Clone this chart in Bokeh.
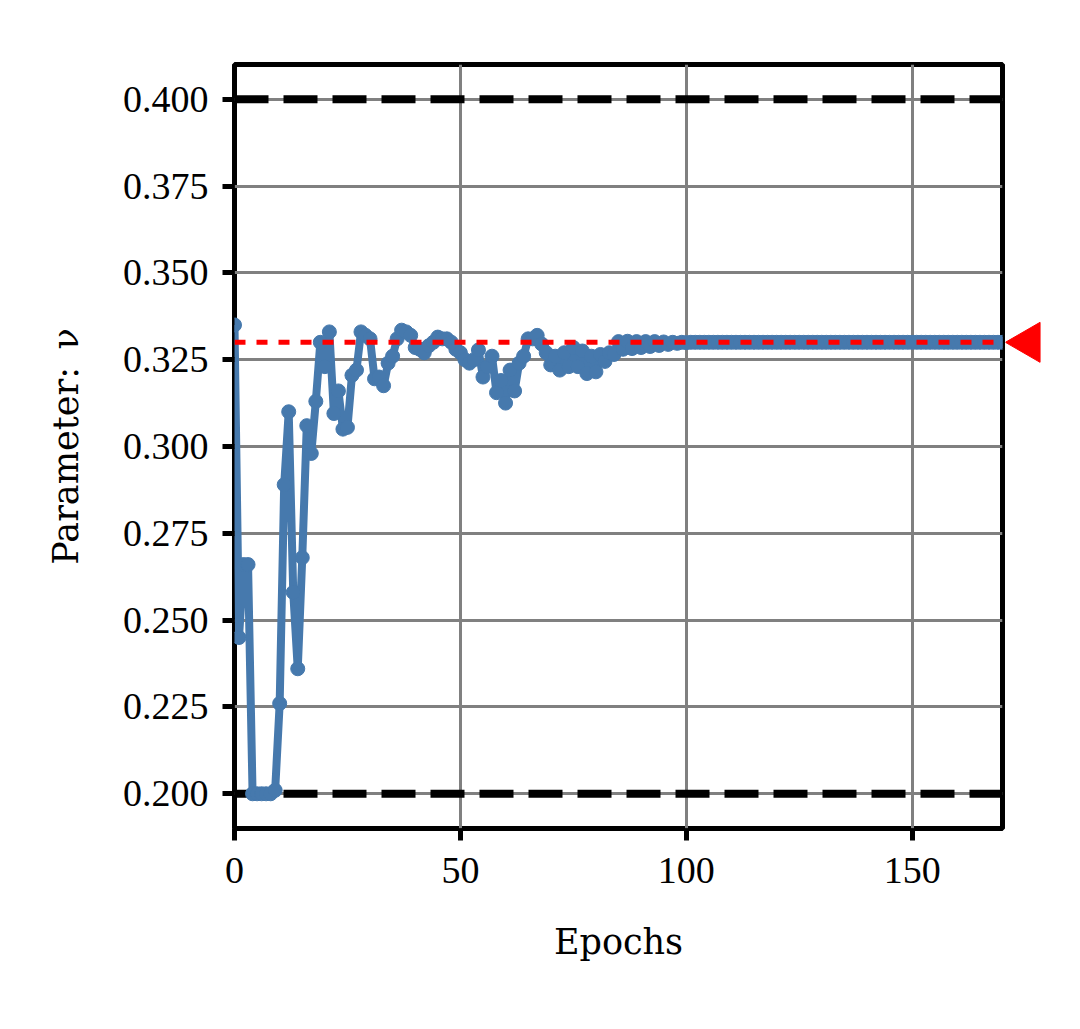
import math
from bokeh.plotting import figure
from bokeh.layouts import row
from bokeh.models import Range1d, FixedTicker, Span, PrintfTickFormatter
from bokeh.embed import file_html
from bokeh.resources import INLINE

# ---------------- data ----------------
epochs = list(range(171))
nu_early = [
    0.335, 0.245, 0.266, 0.266, 0.200, 0.200, 0.200, 0.200, 0.200, 0.201,   # 0-9
    0.226, 0.289, 0.310, 0.258, 0.236, 0.268, 0.306, 0.298, 0.313, 0.330,   # 10-19
    0.323, 0.333, 0.3095, 0.316, 0.305, 0.3055, 0.3205, 0.322, 0.333, 0.332, # 20-29
    0.331, 0.3195, 0.320, 0.3175, 0.324, 0.326, 0.331, 0.3335, 0.333, 0.332, # 30-39
    0.3285, 0.328, 0.327, 0.329, 0.330, 0.3315, 0.331, 0.331, 0.330, 0.328, # 40-49
    0.327, 0.325, 0.324, 0.325, 0.3278, 0.320, 0.323, 0.326, 0.3155, 0.319, # 50-59
    0.3125, 0.322, 0.316, 0.324, 0.326, 0.331, 0.331, 0.332, 0.3295, 0.327, # 60-69
    0.3235, 0.326, 0.322, 0.327, 0.323, 0.3285, 0.323, 0.3275, 0.321, 0.326, # 70-79
    0.3215, 0.3265, 0.3245, 0.327, 0.3265, 0.3302, 0.328, 0.3303, 0.3282, 0.3302, # 80-89
    0.3285, 0.3302, 0.3288, 0.3302, 0.3291, 0.3301, 0.3294, 0.3300, 0.3297, 0.3300, # 90-99
    0.3299,                                                                  # 100
]
nu_late = [0.330] * 70                                                       # 101-170
nu = nu_early + nu_late

upper_bound = 0.400
lower_bound = 0.200
true_nu = 0.330

x_ticks = [0, 50, 100, 150]
y_ticks = [0.200, 0.225, 0.250, 0.275, 0.300, 0.325, 0.350, 0.375, 0.400]

# ---------------- styling ----------------
TICK_FONT = "Liberation Serif"
LABEL_FONT = "DejaVu Serif"
BLUE = "#4679ad"
TOP, BOTTOM, HEIGHT = 64, 192, 1020

p = figure(
    width=1005, height=HEIGHT,
    x_range=Range1d(0, 170), y_range=Range1d(0.19, 0.41),
    output_backend="svg", toolbar_location=None,
    min_border_left=234, min_border_right=3, min_border_top=TOP, min_border_bottom=BOTTOM,
    background_fill_color="white", border_fill_color="white",
)
p.outline_line_color = "black"
p.outline_line_width = 5

p.xaxis.ticker = FixedTicker(ticks=x_ticks)
p.yaxis.ticker = FixedTicker(ticks=y_ticks)
p.yaxis.formatter = PrintfTickFormatter(format="%.3f")

for ax in (p.xaxis, p.yaxis):
    ax.axis_line_color = None
    ax.major_tick_in = 0
    ax.major_tick_out = 12
    ax.major_tick_line_width = 5
    ax.major_tick_line_color = "black"
    ax.minor_tick_line_color = None
    ax.major_label_text_font = TICK_FONT
    ax.major_label_text_font_size = "38px"
    ax.major_label_text_color = "black"
    ax.axis_label_text_font = LABEL_FONT
    ax.axis_label_text_font_size = "35px"
    ax.axis_label_text_font_style = "normal"
    ax.axis_label_text_color = "black"

p.xaxis.axis_label = "Epochs"
p.yaxis.axis_label = "Parameter:\u2002ν"
p.xaxis.major_label_standoff = 17
p.xaxis.axis_label_standoff = 36
p.yaxis.major_label_standoff = 14
p.yaxis.axis_label_standoff = 34

p.grid.grid_line_color = "#808080"
p.grid.grid_line_width = 3
p.xgrid.ticker = FixedTicker(ticks=x_ticks)
p.ygrid.ticker = FixedTicker(ticks=y_ticks)

# bounds (black dashed)
for b in (upper_bound, lower_bound):
    p.add_layout(Span(location=b, dimension="width", line_color="black",
                      line_width=8, line_dash="34 15", level="underlay"))

# parameter trajectory
p.line(epochs, nu, line_color=BLUE, line_width=8, line_join="round")
p.scatter(epochs, nu, size=14, fill_color=BLUE, line_color=BLUE)

# true value (red dotted)
p.add_layout(Span(location=true_nu, dimension="width", line_color="red",
                  line_width=5, line_dash="11 11"))

# narrow side strip holding the red triangle marker at the true value
side = figure(
    width=70, height=HEIGHT,
    x_range=Range1d(0, 70), y_range=p.y_range,
    x_axis_type=None, y_axis_type=None,
    output_backend="svg", toolbar_location=None,
    min_border_left=0, min_border_right=0, min_border_top=TOP, min_border_bottom=BOTTOM,
    background_fill_color="white", border_fill_color="white",
)
side.outline_line_color = None
side.grid.visible = False
side.scatter([23], [true_nu], marker="triangle", size=40, angle=math.pi / 2,
             fill_color="red", line_color="red", line_width=1)

layout = row(p, side, spacing=0)
open("out.html", "w").write(file_html(layout, INLINE))
